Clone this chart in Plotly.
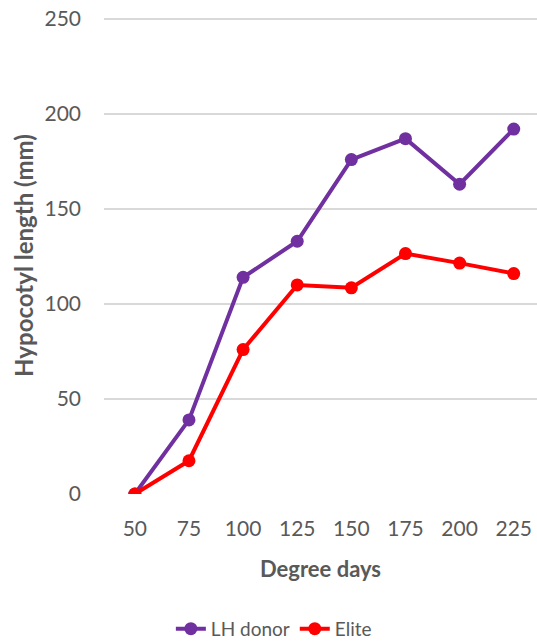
import plotly.graph_objects as go

categories = ["50", "75", "100", "125", "150", "175", "200", "225"]
lh_donor = [0, 39, 114, 133, 176, 187, 163, 192]
elite = [0, 17.5, 76, 110, 108.5, 126.5, 121.5, 116]

fig = go.Figure()
fig.add_trace(go.Scatter(x=categories, y=lh_donor, name="LH donor", mode="lines+markers",
                         line=dict(color="#7030A0", width=4), marker=dict(size=13, color="#7030A0")))
fig.add_trace(go.Scatter(x=categories, y=elite, name="Elite", mode="lines+markers",
                         line=dict(color="#FF0000", width=4), marker=dict(size=13, color="#FF0000")))

font_family = "Lato, 'Open Sans', sans-serif"
fig.update_layout(
    width=537, height=641,
    margin=dict(l=104, r=0, t=17, b=147, autoexpand=False),
    paper_bgcolor="white", plot_bgcolor="white",
    font=dict(family=font_family, color="#595959", size=19),
    legend=dict(orientation="h", xref="container", yref="container", x=0.51, xanchor="center",
                y=0.019, yanchor="middle", font=dict(size=19, color="#595959")),
    showlegend=True,
)
fig.update_xaxes(type="category", range=[-0.57, 7.43], showgrid=False, showline=False, zeroline=False,
                 automargin=False, ticks="", ticklabelstandoff=20, tickfont=dict(size=21, color="#595959"),
                 title=dict(text="<b>Degree days</b>", font=dict(size=22, color="#595959"), standoff=22))
fig.update_yaxes(range=[0, 251], tickvals=[0, 50, 100, 150, 200, 250], showgrid=True,
                 gridcolor="#D9D9D9", gridwidth=1.5, automargin=False,
                 zeroline=False, showline=False, ticks="", ticklabelstandoff=22,
                 tickfont=dict(size=21, color="#595959"),
                 title=dict(text="<b>Hypocotyl length (mm)</b>", font=dict(size=24, color="#595959"), standoff=4))
fig.write_html("out.html", config={"displayModeBar": False},
               post_script="document.body.style.margin='0';document.body.style.padding='0';")
